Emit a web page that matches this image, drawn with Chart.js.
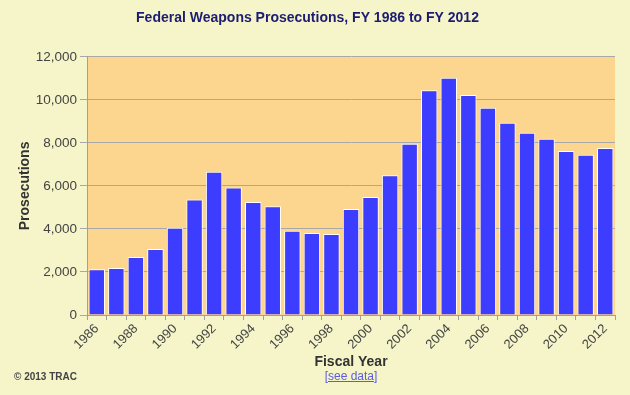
<!DOCTYPE html>
<html>
<head>
<meta charset="utf-8">
<script src="https://cdn.jsdelivr.net/npm/chart.js@4"></script>
<style>
    html, body { margin: 0; padding: 0; background: #f5f5c9; }
    #wrap { position: relative; width: 630px; height: 395px; }
    #copy { position: absolute; left: 14px; top: 371px; font: bold 10px Arial, "Liberation Sans", sans-serif; color: #444; }
    #seedata { position: absolute; left: 0; width: 702px; top: 369px; text-align: center; font: 12px Arial, "Liberation Sans", sans-serif; }
    #seedata a { color: #5c5ce0; text-decoration: underline; }
</style>
</head>
<body>
<div id="wrap">
    <canvas id="weaponsChart" width="630" height="395"></canvas>
    <div id="copy">© 2013 TRAC</div>
    <div id="seedata"><a href="#">[see data]</a></div>
</div>
<script>
// Fiscal years
const years = ['1986', '1987', '1988', '1989', '1990', '1991', '1992', '1993', '1994',
    '1995', '1996', '1997', '1998', '1999', '2000', '2001', '2002', '2003', '2004',
    '2005', '2006', '2007', '2008', '2009', '2010', '2011', '2012'];

// Prosecutions per year
const prosecutions = [2130, 2180, 2690, 3070, 4050, 5370, 6660, 5920, 5250,
    5050, 3920, 3810, 3770, 4930, 5480, 6500, 7960, 10450, 11030,
    10220, 9630, 8940, 8470, 8190, 7620, 7450, 7760];

// Y axis ticks
const yTicks = [0, 2000, 4000, 6000, 8000, 10000, 12000];

// Paint the plot area orange
const plotBackground = {
    id: 'plotBackground',
    beforeDraw(chart) {
        const { ctx, chartArea } = chart;
        ctx.save();
        ctx.fillStyle = '#fcd58e';
        ctx.fillRect(chartArea.left, chartArea.top, chartArea.right - chartArea.left, chartArea.bottom - chartArea.top);
        ctx.restore();
    }
};

const ctx = document.getElementById('weaponsChart').getContext('2d');

new Chart(ctx, {
    type: 'bar',
    data: {
        labels: years,
        datasets: [{
            label: 'Prosecutions',
            data: prosecutions,
            backgroundColor: '#3d3dff',
            borderColor: '#ffffff',
            borderWidth: 1,
            barPercentage: 0.84,
            categoryPercentage: 1.0
        }]
    },
    options: {
        responsive: false,
        animation: false,
        layout: {
            padding: { left: 0, right: 15, top: 0, bottom: 0 }
        },
        plugins: {
            legend: { display: false },
            tooltip: { enabled: false },
            title: {
                display: true,
                text: 'Federal Weapons Prosecutions, FY 1986 to FY 2012',
                color: '#1c1c72',
                font: { family: 'Arial, "Liberation Sans", sans-serif', size: 14, weight: 'bold' },
                padding: { top: 10, bottom: 30 }
            }
        },
        scales: {
            x: {
                afterFit(scale) { scale.height = 80; },
                grid: {
                    drawOnChartArea: false,
                    color: '#a0a0a0',
                    tickLength: 5
                },
                border: { color: '#a0a0a0' },
                ticks: {
                    autoSkip: false,
                    maxRotation: 45,
                    minRotation: 45,
                    padding: 1,
                    color: '#444',
                    font: { family: 'Arial, "Liberation Sans", sans-serif', size: 13 },
                    callback: (value, index) => index % 2 === 0 ? years[index] : ''
                },
                title: {
                    display: true,
                    text: 'Fiscal Year',
                    color: '#333',
                    font: { family: 'Arial, "Liberation Sans", sans-serif', size: 14, weight: 'bold' },
                    padding: { top: 0, bottom: 24 }
                }
            },
            y: {
                min: 0,
                max: 12000,
                afterFit(scale) { scale.width = 87; },
                afterBuildTicks(scale) { scale.ticks = yTicks.map(v => ({ value: v })); },
                grid: {
                    color: '#a8a8a8',
                    tickLength: 7
                },
                border: { color: '#a0a0a0' },
                ticks: {
                    color: '#444',
                    padding: 3,
                    font: { family: 'Arial, "Liberation Sans", sans-serif', size: 13.5 },
                    callback: value => value.toLocaleString('en-US')
                },
                title: {
                    display: true,
                    text: 'Prosecutions',
                    color: '#333',
                    font: { family: 'Arial, "Liberation Sans", sans-serif', size: 14, weight: 'bold' },
                    padding: { top: 17, bottom: 0 }
                }
            }
        }
    },
    plugins: [plotBackground]
});
</script>
</body>
</html>
